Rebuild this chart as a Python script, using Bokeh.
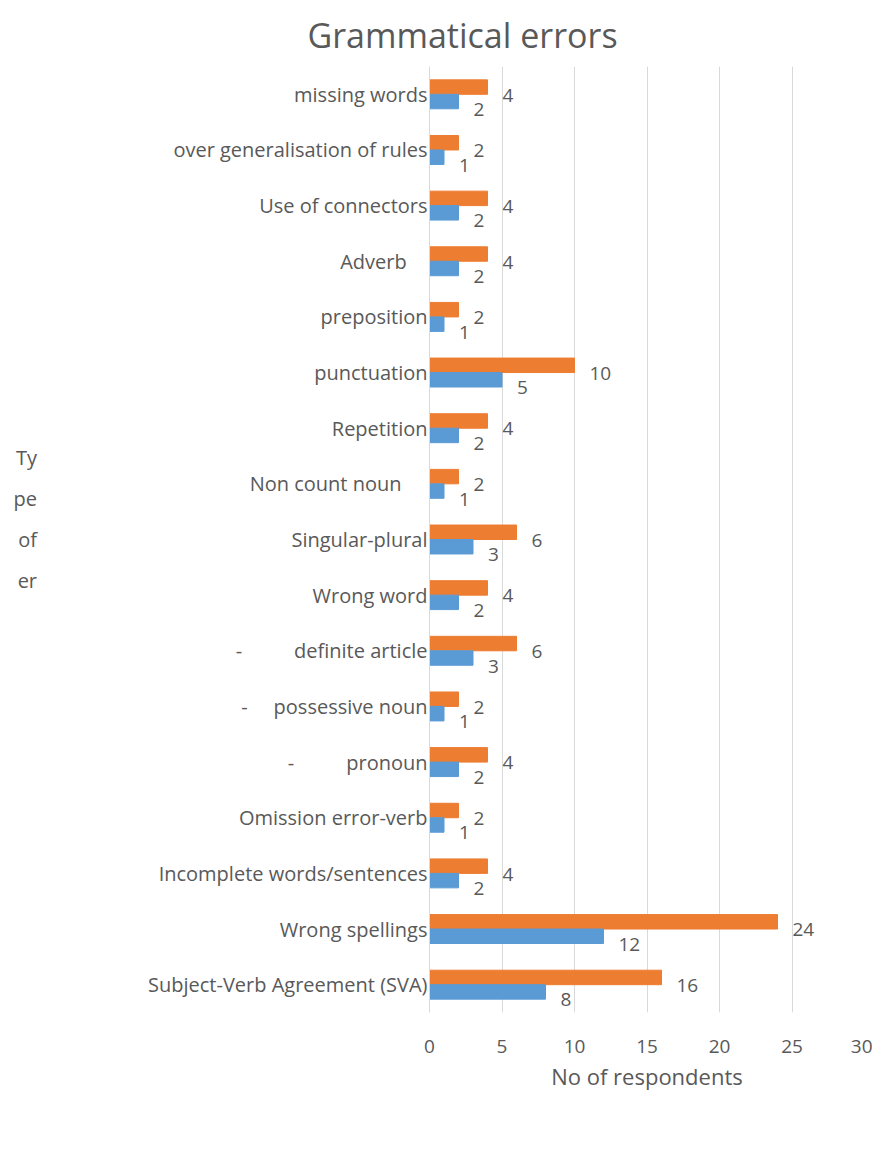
from bokeh.plotting import figure
from bokeh.models import (ColumnDataSource, Range1d, FactorRange, Legend,
                          LegendItem)
from bokeh.transform import dodge
from bokeh.core.properties import value
from bokeh.embed import file_html
from bokeh.resources import INLINE

NB = "\u00a0"
# categories listed bottom to top
categories = [
    "Subject-Verb Agreement (SVA)",
    "Wrong spellings",
    "Incomplete words/sentences",
    "Omission error-verb",
    "-" + NB * 10 + "pronoun",
    "-" + NB * 5 + "possessive noun",
    "-" + NB * 10 + "definite article",
    "Wrong word",
    "Singular-plural",
    "Non count noun" + NB * 5,
    "Repetition",
    "punctuation",
    "preposition",
    "Adverb" + NB * 4,
    "Use of connectors",
    "over generalisation of rules",
    "missing words",
]
percentage = [16, 24, 4, 2, 4, 2, 6, 4, 6, 2, 4, 10, 2, 4, 4, 2, 4]
frequency = [8, 12, 2, 1, 2, 1, 3, 2, 3, 1, 2, 5, 1, 2, 2, 1, 2]
x_ticks = [0, 5, 10, 15, 20, 25, 30]
y_title = "Ty\npe\nof\ner\n" + NB

FONT = "Open Sans"
TXT = "#595959"
ORANGE = "#ED7D31"
BLUE = "#5B9BD5"

src = ColumnDataSource(dict(
    cat=categories,
    pct=percentage,
    freq=frequency,
    pct_lbl=[str(v) for v in percentage],
    freq_lbl=[str(v) for v in frequency],
))

p = figure(width=872, height=1150, frame_width=435, frame_height=946,
           output_backend="svg", toolbar_location=None,
           y_range=FactorRange(*categories), x_range=Range1d(0, 30),
           min_border_left=429, min_border_right=8, min_border_top=66,
           min_border_bottom=0, outline_line_color=None,
           title="Grammatical errors")

p.title.align = "left"
p.title.offset = -122
p.title.text_font = FONT
p.title.text_font_size = "34px"
p.title.text_font_style = "normal"
p.title.text_color = TXT
p.title.standoff = 18

off = 0.13
h = 0.26
r1 = p.hbar(y=dodge("cat", off, range=p.y_range), right="pct", height=h,
            left=0, color=ORANGE, source=src)
r2 = p.hbar(y=dodge("cat", -off, range=p.y_range), right="freq", height=h,
            left=0, color=BLUE, source=src)

p.text(x="pct", y=dodge("cat", off, range=p.y_range), text="pct_lbl",
       x_offset=15, y_offset=8, text_align="left", text_baseline="middle",
       text_font=value(FONT), text_font_size="19px", text_color=TXT, source=src)
p.text(x="freq", y=dodge("cat", -off, range=p.y_range), text="freq_lbl",
       x_offset=15, y_offset=8, text_align="left", text_baseline="middle",
       text_font=value(FONT), text_font_size="19px", text_color=TXT, source=src)

# x axis
xa = p.xaxis[0]
xa.ticker = x_ticks
xa.axis_line_color = None
xa.major_tick_line_color = None
xa.minor_tick_line_color = None
xa.major_label_standoff = 21
xa.major_label_text_font = FONT
xa.major_label_text_font_size = "19px"
xa.major_label_text_color = TXT
xa.axis_label = "No of respondents"
xa.axis_label_text_font = FONT
xa.axis_label_text_font_size = "22px"
xa.axis_label_text_font_style = "normal"
xa.axis_label_text_color = TXT
xa.axis_label_standoff = 5

# y axis
ya = p.yaxis[0]
ya.axis_line_color = "#D9D9D9"
ya.major_tick_line_color = None
ya.minor_tick_line_color = None
ya.major_label_standoff = -4
ya.major_label_text_font = FONT
ya.major_label_text_font_size = "20px"
ya.major_label_text_color = TXT
ya.axis_label = y_title
ya.axis_label_orientation = "horizontal"
ya.axis_label_text_font = FONT
ya.axis_label_text_font_size = "20px"
ya.axis_label_text_font_style = "normal"
ya.axis_label_text_color = TXT
ya.axis_label_text_line_height = 1.51
ya.axis_label_text_align = "left"
ya.axis_label_standoff = 108

p.xgrid.grid_line_color = "#D9D9D9"
p.ygrid.grid_line_color = None

legend = Legend(items=[LegendItem(label="percentage (%)", renderers=[r1]),
                       LegendItem(label="Frequency", renderers=[r2])],
                orientation="horizontal", location=(-130, 17),
                border_line_color=None, background_fill_alpha=0,
                label_text_font=FONT, label_text_font_size="20px",
                label_text_color=TXT, glyph_width=12, glyph_height=12,
                label_standoff=3, spacing=2, margin=0, padding=2)
p.add_layout(legend, "below")

open("out.html", "w").write(file_html(p, INLINE))
